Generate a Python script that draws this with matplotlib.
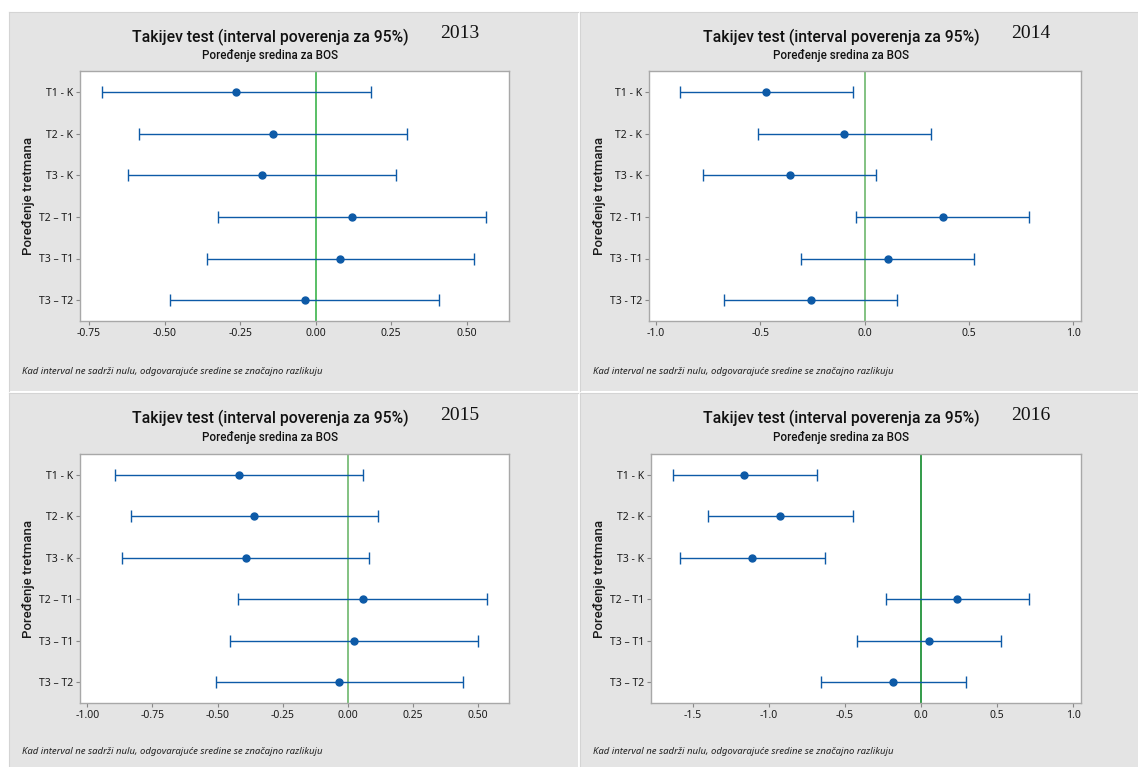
import numpy as np
import matplotlib
matplotlib.use("Agg")
import matplotlib.pyplot as plt

plt.rcParams['font.family'] = ['Noto Sans', 'DejaVu Sans']
BOLD_FAMILY = ['Roboto', 'Open Sans', 'DejaVu Sans']

# Tukey comparisons, one set per year
comparisons = ["T1 - K", "T2 - K", "T3 - K", "T2 – T1", "T3 – T1", "T3 – T2"]
comparisons_2014 = ["T1 - K", "T2 - K", "T3 - K", "T2 - T1", "T3 - T1", "T3 - T2"]

diff_2013 = [-0.263, -0.142, -0.178, 0.119, 0.081, -0.036]
low_2013 = [-0.706, -0.586, -0.622, -0.324, -0.361, -0.481]
high_2013 = [0.182, 0.302, 0.267, 0.565, 0.525, 0.408]

diff_2014 = [-0.473, -0.097, -0.359, 0.374, 0.112, -0.259]
low_2014 = [-0.887, -0.511, -0.773, -0.042, -0.304, -0.673]
high_2014 = [-0.058, 0.318, 0.056, 0.789, 0.526, 0.157]

diff_2015 = [-0.417, -0.361, -0.393, 0.056, 0.024, -0.035]
low_2015 = [-0.894, -0.834, -0.868, -0.421, -0.453, -0.506]
high_2015 = [0.058, 0.115, 0.081, 0.532, 0.499, 0.442]

diff_2016 = [-1.162, -0.928, -1.112, 0.236, 0.053, -0.186]
low_2016 = [-1.632, -1.400, -1.584, -0.234, -0.420, -0.659]
high_2016 = [-0.687, -0.449, -0.635, 0.711, 0.525, 0.293]

ticks_2013 = [-0.75, -0.50, -0.25, 0.00, 0.25, 0.50]
ticks_2014 = [-1.0, -0.5, 0.0, 0.5, 1.0]
ticks_2015 = [-1.00, -0.75, -0.50, -0.25, 0.00, 0.25, 0.50]
ticks_2016 = [-1.5, -1.0, -0.5, 0.0, 0.5, 1.0]

W, H = 1138, 767
BLUE = '#0d5aa7'
PANEL_GRAY = '#e4e4e4'

fig = plt.figure(figsize=(W / 100, H / 100), dpi=100)
fig.patch.set_facecolor('white')


def px_rect(x0, y0, x1, y1):
    return [x0 / W, 1 - y1 / H, (x1 - x0) / W, (y1 - y0) / H]


def fig_xy(x, y):
    return x / W, 1 - y / H


def draw_panel(panel, axbox, year, labels, diff, low, high, ticks, fmt, xlim, zero_color):
    px0, py0, px1, py1 = panel
    bg = fig.add_axes(px_rect(*panel))
    bg.set_facecolor(PANEL_GRAY)
    bg.set_xticks([])
    bg.set_yticks([])
    for s in bg.spines.values():
        s.set_visible(False)
    bg.spines['left'].set_visible(True)
    bg.spines['left'].set_color('#d4d4d4')
    bg.spines['top'].set_visible(True)
    bg.spines['top'].set_color('#d4d4d4')

    ax = fig.add_axes(px_rect(*axbox))
    ax.set_facecolor('white')
    y = np.arange(len(labels))
    diff = np.array(diff)
    xerr = [diff - np.array(low), np.array(high) - diff]
    ax.axvline(0, color=zero_color, lw=1.2, zorder=1)
    ax.errorbar(diff, y, xerr=xerr, fmt='o', color=BLUE, ecolor=BLUE,
                elinewidth=1.0, capsize=4, capthick=1.0, markersize=5, zorder=3)
    ax.set_ylim(len(labels) - 0.5, -0.5)
    ax.set_xlim(*xlim)
    ax.set_yticks(y)
    ax.set_yticklabels(labels)
    ax.set_xticks(ticks)
    ax.set_xticklabels([fmt.format(t) for t in ticks])
    ax.tick_params(axis='both', labelsize=7.5, colors='#1a1a1a', length=3,
                   width=0.8, pad=2)
    ax.tick_params(axis='both', color='#888888')
    for s in ax.spines.values():
        s.set_color('#a8a8a8')
        s.set_linewidth(1.0)
    ax.set_ylabel('Poređenje tretmana', fontsize=9.5, fontweight='medium',
                  family=BOLD_FAMILY, color='#1a1a1a')
    ax.yaxis.set_label_coords((px0 + 26 - axbox[0]) / (axbox[2] - axbox[0]), 0.5)

    fig.text(*fig_xy(px0 + 261, py0 + 25), 'Takijev test (interval poverenja za 95%)',
             ha='center', va='center', fontsize=11.3, fontweight='medium',
             family=BOLD_FAMILY, color='#111111')
    fig.text(*fig_xy(px0 + 261, py0 + 44), 'Poređenje sredina za BOS',
             ha='center', va='center', fontsize=8.4, fontweight='medium',
             family=BOLD_FAMILY, color='#111111')
    fig.text(*fig_xy(px0 + 451, py0 + 22), year, ha='center', va='center',
             fontsize=14, family='Liberation Serif', color='#111111')
    fig.text(*fig_xy(px0 + 13, py0 + 359),
             'Kad interval ne sadrži nulu, odgovarajuće sredine se značajno razlikuju',
             ha='left', va='center', fontsize=6.9, style='italic', color='#222222')
    return ax


draw_panel((9, 12, 578, 391), (80, 71, 509, 321), '2013', comparisons,
           diff_2013, low_2013, high_2013, ticks_2013, '{:.2f}', (-0.78, 0.64), '#3cb44b')
draw_panel((580, 12, 1138, 391), (649, 71, 1081, 321), '2014', comparisons_2014,
           diff_2014, low_2014, high_2014, ticks_2014, '{:.1f}', (-1.034, 1.037), '#6db86d')
draw_panel((9, 393, 578, 767), (80, 454, 509, 703), '2015', comparisons,
           diff_2015, low_2015, high_2015, ticks_2015, '{:.2f}', (-1.028, 0.618), '#6db86d')
draw_panel((580, 393, 1138, 767), (651, 454, 1081, 703), '2016', comparisons,
           diff_2016, low_2016, high_2016, ticks_2016, '{:.1f}', (-1.775, 1.05), '#118a2a')

fig.savefig('out.png', dpi=100)
